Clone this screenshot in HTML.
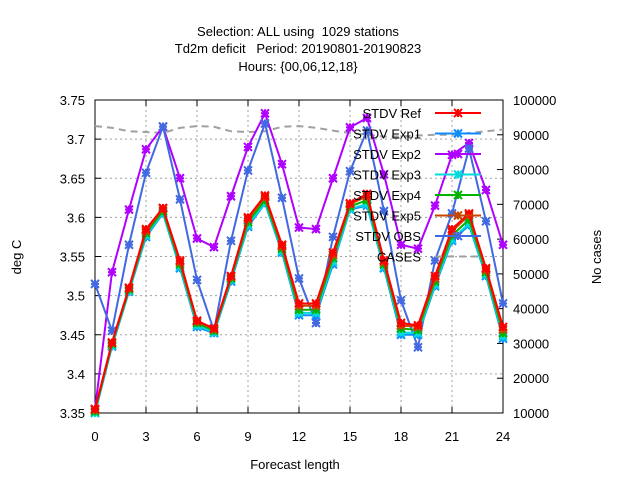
<!DOCTYPE html>
<html><head><meta charset="utf-8"><style>
html,body{margin:0;padding:0;background:#fff}
svg{display:block;font-family:"Liberation Sans",sans-serif}
text{white-space:pre}
</style></head><body>
<svg id="chart" width="640" height="480">
<g font-size="13" text-anchor="middle" fill="#000">
<text x="298" y="36">Selection: ALL using  1029 stations</text>
<text x="298" y="53">Td2m deficit   Period: 20190801-20190823</text>
<text x="298" y="71">Hours: {00,06,12,18}</text>
</g>
<g id="grid"></g>
<g id="axes"></g>
<g id="series"></g>
<g id="legend"></g>
<text x="21" y="257" font-size="13" text-anchor="middle" transform="rotate(-90 21 257)">deg C</text>
<text x="601" y="257" font-size="13" text-anchor="middle" transform="rotate(-90 601 257)">No cases</text>
<text x="295" y="469" font-size="13" text-anchor="middle">Forecast length</text>
</svg>
<script>
const hours=[0,1,2,3,4,5,6,7,8,9,10,11,12,13,14,15,16,17,18,19,20,21,22,23,24];
const ref=[3.355,3.44,3.51,3.585,3.612,3.545,3.468,3.458,3.525,3.60,3.628,3.565,3.49,3.49,3.555,3.618,3.63,3.545,3.465,3.462,3.525,3.585,3.605,3.535,3.46];
const exp1=[3.35,3.435,3.505,3.575,3.605,3.535,3.46,3.452,3.518,3.588,3.618,3.555,3.475,3.475,3.54,3.61,3.615,3.535,3.45,3.45,3.512,3.57,3.59,3.525,3.445];
const exp2=[3.355,3.53,3.61,3.687,3.716,3.65,3.573,3.562,3.627,3.69,3.733,3.668,3.587,3.585,3.65,3.715,3.727,3.655,3.565,3.56,3.615,3.68,3.695,3.635,3.565];
const exp3=[3.35,3.436,3.506,3.577,3.606,3.537,3.462,3.453,3.52,3.59,3.619,3.557,3.478,3.478,3.543,3.611,3.617,3.537,3.453,3.452,3.514,3.572,3.592,3.527,3.448];
const exp4=[3.352,3.438,3.508,3.58,3.608,3.54,3.465,3.455,3.522,3.594,3.622,3.56,3.482,3.482,3.548,3.614,3.622,3.54,3.458,3.456,3.518,3.577,3.597,3.53,3.452];
const exp5=[3.354,3.44,3.51,3.583,3.611,3.543,3.467,3.457,3.524,3.598,3.626,3.563,3.487,3.487,3.552,3.617,3.627,3.543,3.462,3.46,3.522,3.582,3.603,3.533,3.457];
const obs=[3.515,3.455,3.565,3.657,3.716,3.623,3.52,3.455,3.57,3.66,3.72,3.625,3.522,3.465,3.575,3.659,3.711,3.608,3.494,3.434,3.545,3.605,3.688,3.595,3.49];
const cases=[92500,92000,91000,90800,90500,92000,92500,92300,91000,90800,91000,92300,92500,92000,91200,90500,90000,89500,89500,89800,90000,90000,90500,91000,91500];
const yTicks=[3.35,3.4,3.45,3.5,3.55,3.6,3.65,3.7,3.75];
const yTickLabels=["3.35","3.4","3.45","3.5","3.55","3.6","3.65","3.7","3.75"];
const y2Ticks=[10000,20000,30000,40000,50000,60000,70000,80000,90000,100000];
const xTicks=[0,3,6,9,12,15,18,21,24];

const NS="http://www.w3.org/2000/svg";
const L=95,R=503,T=100,B=413;
const xs=v=>L+(v-0)/24*(R-L);
const ys=v=>B-(v-3.35)/0.4*(B-T);
const y2s=v=>B-(v-10000)/90000*(B-T);
function mk(parent,tag,attrs){const e=document.createElementNS(NS,tag);for(const k in attrs)e.setAttribute(k,attrs[k]);parent.appendChild(e);return e;}
const grid=document.getElementById('grid'),axes=document.getElementById('axes'),ser=document.getElementById('series'),leg=document.getElementById('legend');
yTicks.forEach((v,i)=>{
  if(i>0&&i<yTicks.length-1){const g=mk(grid,'line',{x1:L,x2:R,y1:ys(v),y2:ys(v),stroke:'#a0a0a0','stroke-dasharray':'2,3','stroke-width':1});
  
  }
  const t=mk(axes,'text',{x:L-10,y:ys(v)+5,'font-size':13,'text-anchor':'end'});t.textContent=yTickLabels[i];
  
  
  mk(axes,'line',{x1:L,x2:L+6,y1:ys(v),y2:ys(v),stroke:'#000'});
});
y2Ticks.forEach(v=>{
  const t=mk(axes,'text',{x:R+10,y:y2s(v)+5,'font-size':13});t.textContent=String(v);
  
  
  mk(axes,'line',{x1:R-6,x2:R,y1:y2s(v),y2:y2s(v),stroke:'#000'});
});
xTicks.forEach((v,i)=>{
  if(i>0&&i<xTicks.length-1){const g=mk(grid,'line',{x1:xs(v),x2:xs(v),y1:T,y2:B,stroke:'#a0a0a0','stroke-dasharray':'2,3','stroke-width':1});
  
  }
  const t=mk(axes,'text',{x:xs(v),y:B+28,'font-size':13,'text-anchor':'middle'});t.textContent=String(v);
  
  
  mk(axes,'line',{x1:xs(v),x2:xs(v),y1:B,y2:B-6,stroke:'#000'});
  mk(axes,'line',{x1:xs(v),x2:xs(v),y1:T,y2:T+6,stroke:'#000'});
});
const box=mk(axes,'rect',{x:L,y:T,width:R-L,height:B-T,fill:'none',stroke:'#000','stroke-width':1});



function star(g,x,y,c){const s=4;
  mk(g,'path',{d:`M${x-s},${y}H${x+s}M${x},${y-s}V${y+s}M${x-s},${y-s}L${x+s},${y+s}M${x-s},${y+s}L${x+s},${y-s}`,stroke:c,'stroke-width':2,fill:'none'});}
const seriesList=[
 {name:'STDV Ref',data:ref,color:'#ff0000'},
 {name:'STDV Exp1',data:exp1,color:'#0a8cff'},
 {name:'STDV Exp2',data:exp2,color:'#b000ff'},
 {name:'STDV Exp3',data:exp3,color:'#00dcdc'},
 {name:'STDV Exp4',data:exp4,color:'#00b400'},
 {name:'STDV Exp5',data:exp5,color:'#c84600'},
 {name:'STDV OBS',data:obs,color:'#4169e1'}];
const cg=mk(ser,'polyline',{points:hours.map((h,i)=>xs(h)+','+y2s(cases[i])).join(' '),fill:'none',stroke:'#a0a0a0','stroke-width':2,'stroke-dasharray':'7,5'});


const order=[2,6,1,3,4,5,0];
order.forEach(k=>{const s=seriesList[k];
  const g=mk(ser,'g',{});
  
  
  mk(g,'polyline',{points:hours.map((h,i)=>xs(h)+','+ys(s.data[i])).join(' '),fill:'none',stroke:s.color,'stroke-width':2});
  hours.forEach((h,i)=>star(g,xs(h),ys(s.data[i]),s.color));
});
const legItems=seriesList.concat([{name:'CASES',color:'#a0a0a0',dash:true}]);
legItems.forEach((s,i)=>{const y=113+i*20.5;
  const g=mk(leg,'g',{});
  
  
  const t=mk(g,'text',{x:421,y:y+5,'font-size':13,'text-anchor':'end'});t.textContent=s.name;
  mk(g,'line',{x1:435,x2:481,y1:y,y2:y,stroke:s.color,'stroke-width':2,'stroke-dasharray':s.dash?'7,5':'none'});
  if(!s.dash)star(g,458,y,s.color);
});
</script>
</body></html>
